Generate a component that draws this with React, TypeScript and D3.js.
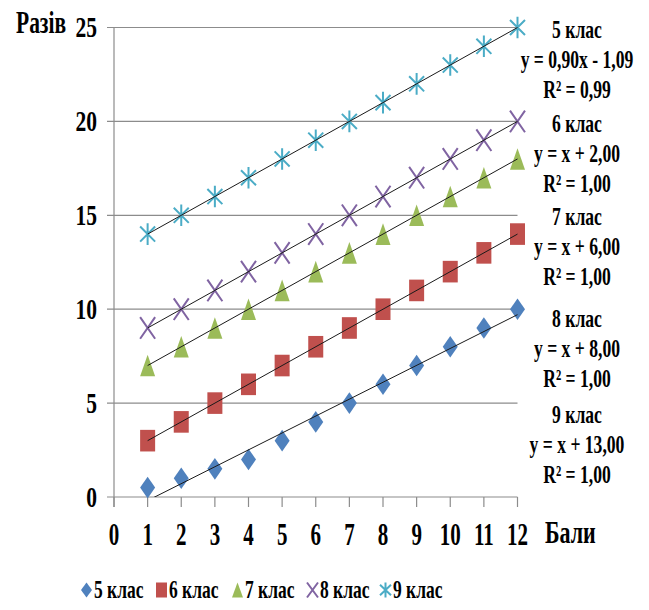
import React from "react";
import * as d3 from "d3";

const xs = [1, 2, 3, 4, 5, 6, 7, 8, 9, 10, 11, 12];
const grade5 = [0.5, 1, 1.5, 2, 3, 4, 5, 6, 7, 8, 9, 10];
const grade6 = [3, 4, 5, 6, 7, 8, 9, 10, 11, 12, 13, 14];
const grade7 = [7, 8, 9, 10, 11, 12, 13, 14, 15, 16, 17, 18];
const grade8 = [9, 10, 11, 12, 13, 14, 15, 16, 17, 18, 19, 20];
const grade9 = [14, 15, 16, 17, 18, 19, 20, 21, 22, 23, 24, 25];

const seriesNames = ["5 клас", "6 клас", "7 клас", "8 клас", "9 клас"];
const seriesColors = ["#4F81BD", "#C0504D", "#9BBB59", "#8064A2", "#4BACC6"];
const seriesShapes = ["diamond", "square", "triangle", "x", "star"];
// trendline slope / intercept per series
const trendSlopes = [0.9, 1, 1, 1, 1];
const trendIntercepts = [-1.09, 2, 6, 8, 13];

const trendLabels = [
  ["5 клас", "y = 0,90x - 1,09", "R² = 0,99"],
  ["6 клас", "y = x + 2,00", "R² = 1,00"],
  ["7 клас", "y = x + 6,00", "R² = 1,00"],
  ["8 клас", "y = x + 8,00", "R² = 1,00"],
  ["9 клас", "y = x + 13,00", "R² = 1,00"],
];
const trendLabelTops = [38, 132, 225, 327, 423];

const yTicks = [0, 5, 10, 15, 20, 25];
const xTicks = [0, 1, 2, 3, 4, 5, 6, 7, 8, 9, 10, 11, 12];

const FONT = "'Liberation Serif', 'Times New Roman', serif";

function Txt({ x, y, size, sy = 1.4, anchor = "start", children }: any) {
  return (
    <text
      transform={`translate(${x},${y}) scale(1,${sy})`}
      fontSize={size}
      fontFamily={FONT}
      fontWeight="bold"
      textAnchor={anchor}
      fill="#000"
    >
      {children}
    </text>
  );
}

function Marker({ shape, color, cx, cy, w, h }: any) {
  const sw = 2;
  switch (shape) {
    case "diamond":
      return <path d={`M${cx},${cy - h}L${cx + w},${cy}L${cx},${cy + h}L${cx - w},${cy}Z`} fill={color} />;
    case "square":
      return <rect x={cx - w} y={cy - h} width={2 * w} height={2 * h} fill={color} />;
    case "triangle":
      return <path d={`M${cx},${cy - h}L${cx + w},${cy + h}L${cx - w},${cy + h}Z`} fill={color} />;
    case "x":
      return (
        <path
          d={`M${cx - w},${cy - h}L${cx + w},${cy + h}M${cx - w},${cy + h}L${cx + w},${cy - h}`}
          stroke={color}
          strokeWidth={sw}
          fill="none"
        />
      );
    default:
      return (
        <path
          d={`M${cx - w},${cy - h * 0.7}L${cx + w},${cy + h * 0.7}M${cx - w},${cy + h * 0.7}L${cx + w},${cy - h * 0.7}M${cx},${cy - h}L${cx},${cy + h}`}
          stroke={color}
          strokeWidth={sw}
          fill="none"
        />
      );
  }
}

export default function App() {
  const x = d3.scaleLinear().domain([0, 12]).range([114, 517.5]);
  const y = d3.scaleLinear().domain([0, 25]).range([497, 27.5]);
  const data = [grade5, grade6, grade7, grade8, grade9];
  const grid = "#8c8c8c";

  const legendX = [81, 156, 232, 307, 380];

  return (
    <svg width={649} height={610} style={{ position: "absolute", left: 0, top: 0 }}>
      <rect width={649} height={610} fill="#fff" />
      <defs>
        <clipPath id="plot">
          <rect x={x(0)} y={y(25) - 2} width={x(12) - x(0) + 2} height={y(0) - y(25) + 2} />
        </clipPath>
      </defs>

      {/* horizontal gridlines */}
      {yTicks.map((t) => (
        <line key={t} x1={107} x2={x(12)} y1={y(t)} y2={y(t)} stroke={grid} strokeWidth={1.2} />
      ))}
      {/* vertical axis */}
      <line x1={x(0)} x2={x(0)} y1={y(25)} y2={y(0) + 10} stroke={grid} strokeWidth={1.2} />
      {/* x tick marks */}
      {xTicks.map((t) => (
        <line key={t} x1={x(t)} x2={x(t)} y1={y(0)} y2={y(0) + 10} stroke={grid} strokeWidth={1.2} />
      ))}

      {/* y tick labels */}
      {yTicks.map((t) => (
        <Txt key={t} x={97} y={y(t) + 9.5} size={21.5} sy={1.4} anchor="end">
          {t}
        </Txt>
      ))}
      {/* x tick labels */}
      {xTicks.map((t) => (
        <Txt key={t} x={x(t)} y={545} size={21} sy={1.55} anchor="middle">
          {t}
        </Txt>
      ))}

      <Txt x={16} y={33} size={21.5} sy={1.48}>Разів</Txt>
      <Txt x={545} y={543} size={22} sy={1.48}>Бали</Txt>

      {/* markers */}
      {data.map((vals, si) =>
        vals.map((v, i) => (
          <Marker
            key={`${si}-${i}`}
            shape={seriesShapes[si]}
            color={seriesColors[si]}
            cx={x(xs[i])}
            cy={y(v)}
            w={7.5}
            h={10.8}
          />
        ))
      )}

      {/* linear trendlines */}
      <g clipPath="url(#plot)">
        {trendSlopes.map((m, si) => {
          const b = trendIntercepts[si];
          const x0 = xs[0];
          const x1 = xs[xs.length - 1];
          return (
            <line
              key={si}
              x1={x(x0)}
              y1={y(m * x0 + b)}
              x2={x(x1)}
              y2={y(m * x1 + b)}
              stroke="#1a1a1a"
              strokeWidth={1}
            />
          );
        })}
      </g>

      {/* trendline equations */}
      {trendLabels.map((lines, bi) =>
        lines.map((s, li) => (
          <Txt key={`${bi}-${li}`} x={577} y={trendLabelTops[bi] + li * 30} size={17.6} sy={1.4} anchor="middle">
            {s}
          </Txt>
        ))
      )}

      {/* legend */}
      {seriesNames.map((n, si) => (
        <g key={n}>
          <Marker
            shape={seriesShapes[si]}
            color={seriesColors[si]}
            cx={legendX[si] + 5.5}
            cy={590}
            w={5.5}
            h={7.5}
          />
          <Txt x={legendX[si] + 13} y={598} size={17.5} sy={1.5}>
            {n}
          </Txt>
        </g>
      ))}
    </svg>
  );
}
